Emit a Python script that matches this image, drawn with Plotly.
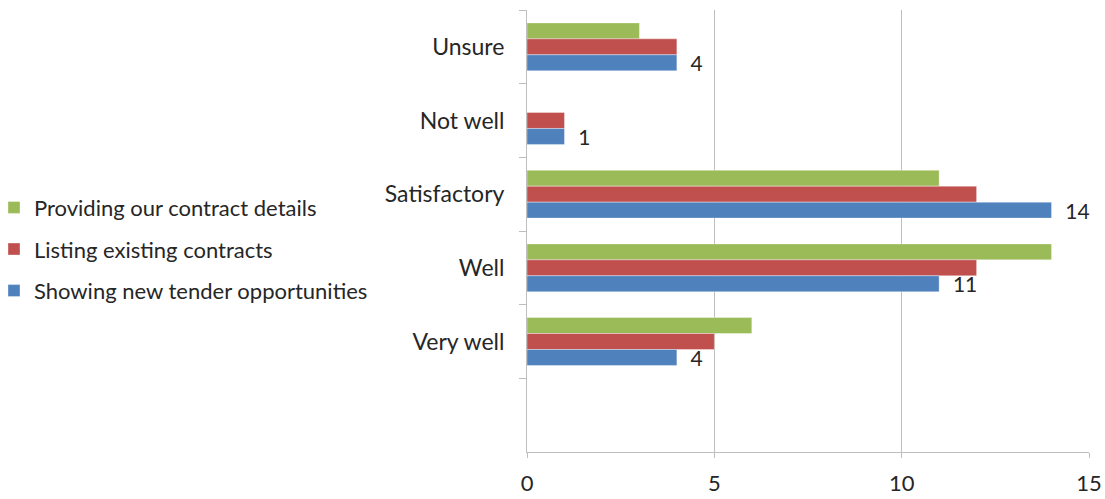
import plotly.graph_objects as go

categories = ["Unsure", "Not well", "Satisfactory", "Well", "Very well"]
axis_categories = ["Unsure", "Not well", "Satisfactory", "Well", "Very well", " "]
providing = [3, 0, 11, 14, 6]
listing = [4, 1, 12, 12, 5]
showing = [4, 1, 14, 11, 4]
x_ticks = [0, 5, 10, 15]

FONT = "Lato"
EDGE = dict(color="rgba(255,255,255,0.6)", width=0.6)
fig = go.Figure()
fig.add_trace(go.Bar(
    y=categories, x=providing, orientation="h", name="Providing our contract details",
    marker=dict(color="#9BBB59", line=EDGE), legendgroup="a",
))
fig.add_trace(go.Bar(
    y=categories, x=listing, orientation="h", name="Listing existing contracts",
    marker=dict(color="#C0504D", line=EDGE), legendgroup="b",
))
fig.add_trace(go.Bar(
    y=categories, x=showing, orientation="h", name="Showing new tender opportunities",
    marker=dict(color="#4F81BD", line=EDGE),
    text=[str(v) for v in showing], texttemplate="  %{text}", textposition="outside",
    constraintext="none", textfont=dict(size=21, color="#262626", family=FONT),
    cliponaxis=False, legendgroup="c",
))

fig.update_layout(
    width=1105, height=499,
    margin=dict(l=527, r=16, t=10, b=47, autoexpand=False),
    paper_bgcolor="white", plot_bgcolor="white",
    barmode="group", bargap=0.35, bargroupgap=0,
    font=dict(family=FONT, size=22, color="#262626"),
    legend=dict(
        xref="paper", yref="paper", x=-0.9484, y=0.459, xanchor="left", yanchor="middle",
        traceorder="grouped", tracegroupgap=10, bgcolor="rgba(0,0,0,0)",
        font=dict(size=22, family=FONT, color="#262626"),
    ),
)
fig.update_xaxes(
    range=[0, 15], tickvals=x_ticks, ticktext=[str(v) for v in x_ticks],
    showgrid=True, gridcolor="#BEBEBE", gridwidth=1,
    showline=True, linecolor="#BEBEBE", linewidth=1,
    ticks="outside", ticklen=5, tickcolor="#BEBEBE",
    zeroline=False, tickfont=dict(size=22), ticklabelstandoff=7,
    fixedrange=True, automargin=False,
)
fig.update_yaxes(
    type="category", categoryorder="array", categoryarray=axis_categories,
    range=[5.5, -0.5], tickson="boundaries",
    showgrid=False, showline=True, linecolor="#BEBEBE", linewidth=1,
    ticks="outside", ticklen=7, tickcolor="#BEBEBE",
    tickfont=dict(size=23), ticklabelstandoff=17, fixedrange=True, automargin=False,
)

fig.write_html(
    "out.html",
    config={"displayModeBar": False},
    post_script="document.body.style.margin='0px'; document.body.style.overflow='hidden';",
)
